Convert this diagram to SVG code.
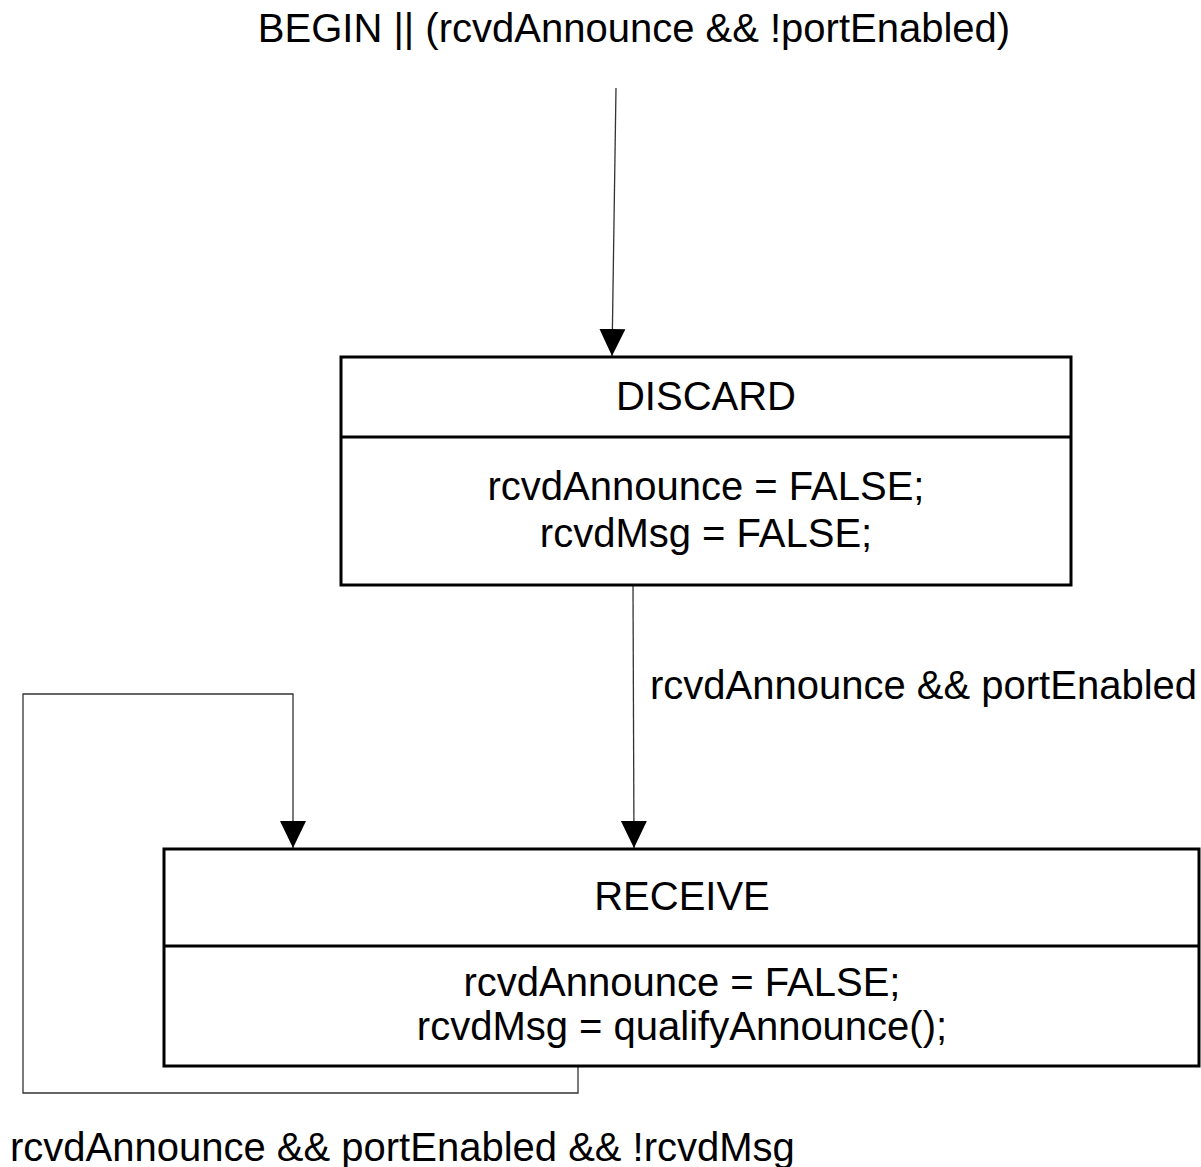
<svg xmlns="http://www.w3.org/2000/svg" width="1201" height="1167" viewBox="0 0 1201 1167">
<style>
  text { font-family: "Liberation Sans", Arial, sans-serif; font-size: 40px; fill: #000; }
  .c { text-anchor: middle; }
  .box { fill: #fff; stroke: #000; stroke-width: 3; }
  .div { stroke: #000; stroke-width: 3; }
  .edge { fill: none; stroke: #333; stroke-width: 1.3; }
</style>
<defs>
  <marker id="arr" markerUnits="userSpaceOnUse" markerWidth="28" markerHeight="28" viewBox="0 0 28 28" refX="27" refY="14" orient="auto">
    <path d="M0,1 L27,14 L0,27 Z" fill="#000"/>
  </marker>
</defs>
<rect width="1201" height="1167" fill="#fff"/>
<g id="connectors">
  <line class="edge" x1="616" y1="88" x2="612" y2="356" marker-end="url(#arr)"/>
  <line class="edge" x1="633" y1="586" x2="634" y2="848" marker-end="url(#arr)"/>
  <path class="edge" d="M578,1067 V1093 H23 V694 H293 V848" marker-end="url(#arr)"/>
  <text x="634" y="42" class="c">BEGIN || (rcvdAnnounce &amp;&amp; !portEnabled)</text>
  <text x="650" y="699">rcvdAnnounce &amp;&amp; portEnabled</text>
  <text x="10" y="1161">rcvdAnnounce &amp;&amp; portEnabled &amp;&amp; !rcvdMsg</text>
</g>
<g id="discard">
  <rect class="box" x="341" y="357" width="730" height="228"/>
  <line class="div" x1="341" y1="437" x2="1071" y2="437"/>
  <text x="706" y="410" class="c">DISCARD</text>
  <text x="706" y="500" class="c">rcvdAnnounce = FALSE;</text>
  <text x="706" y="547" class="c">rcvdMsg = FALSE;</text>
</g>
<g id="receive">
  <rect class="box" x="164" y="849" width="1035" height="217"/>
  <line class="div" x1="164" y1="946" x2="1199" y2="946"/>
  <text x="682" y="910" class="c">RECEIVE</text>
  <text x="682" y="996" class="c">rcvdAnnounce = FALSE;</text>
  <text x="682" y="1040" class="c">rcvdMsg = qualifyAnnounce();</text>
</g>
</svg>
